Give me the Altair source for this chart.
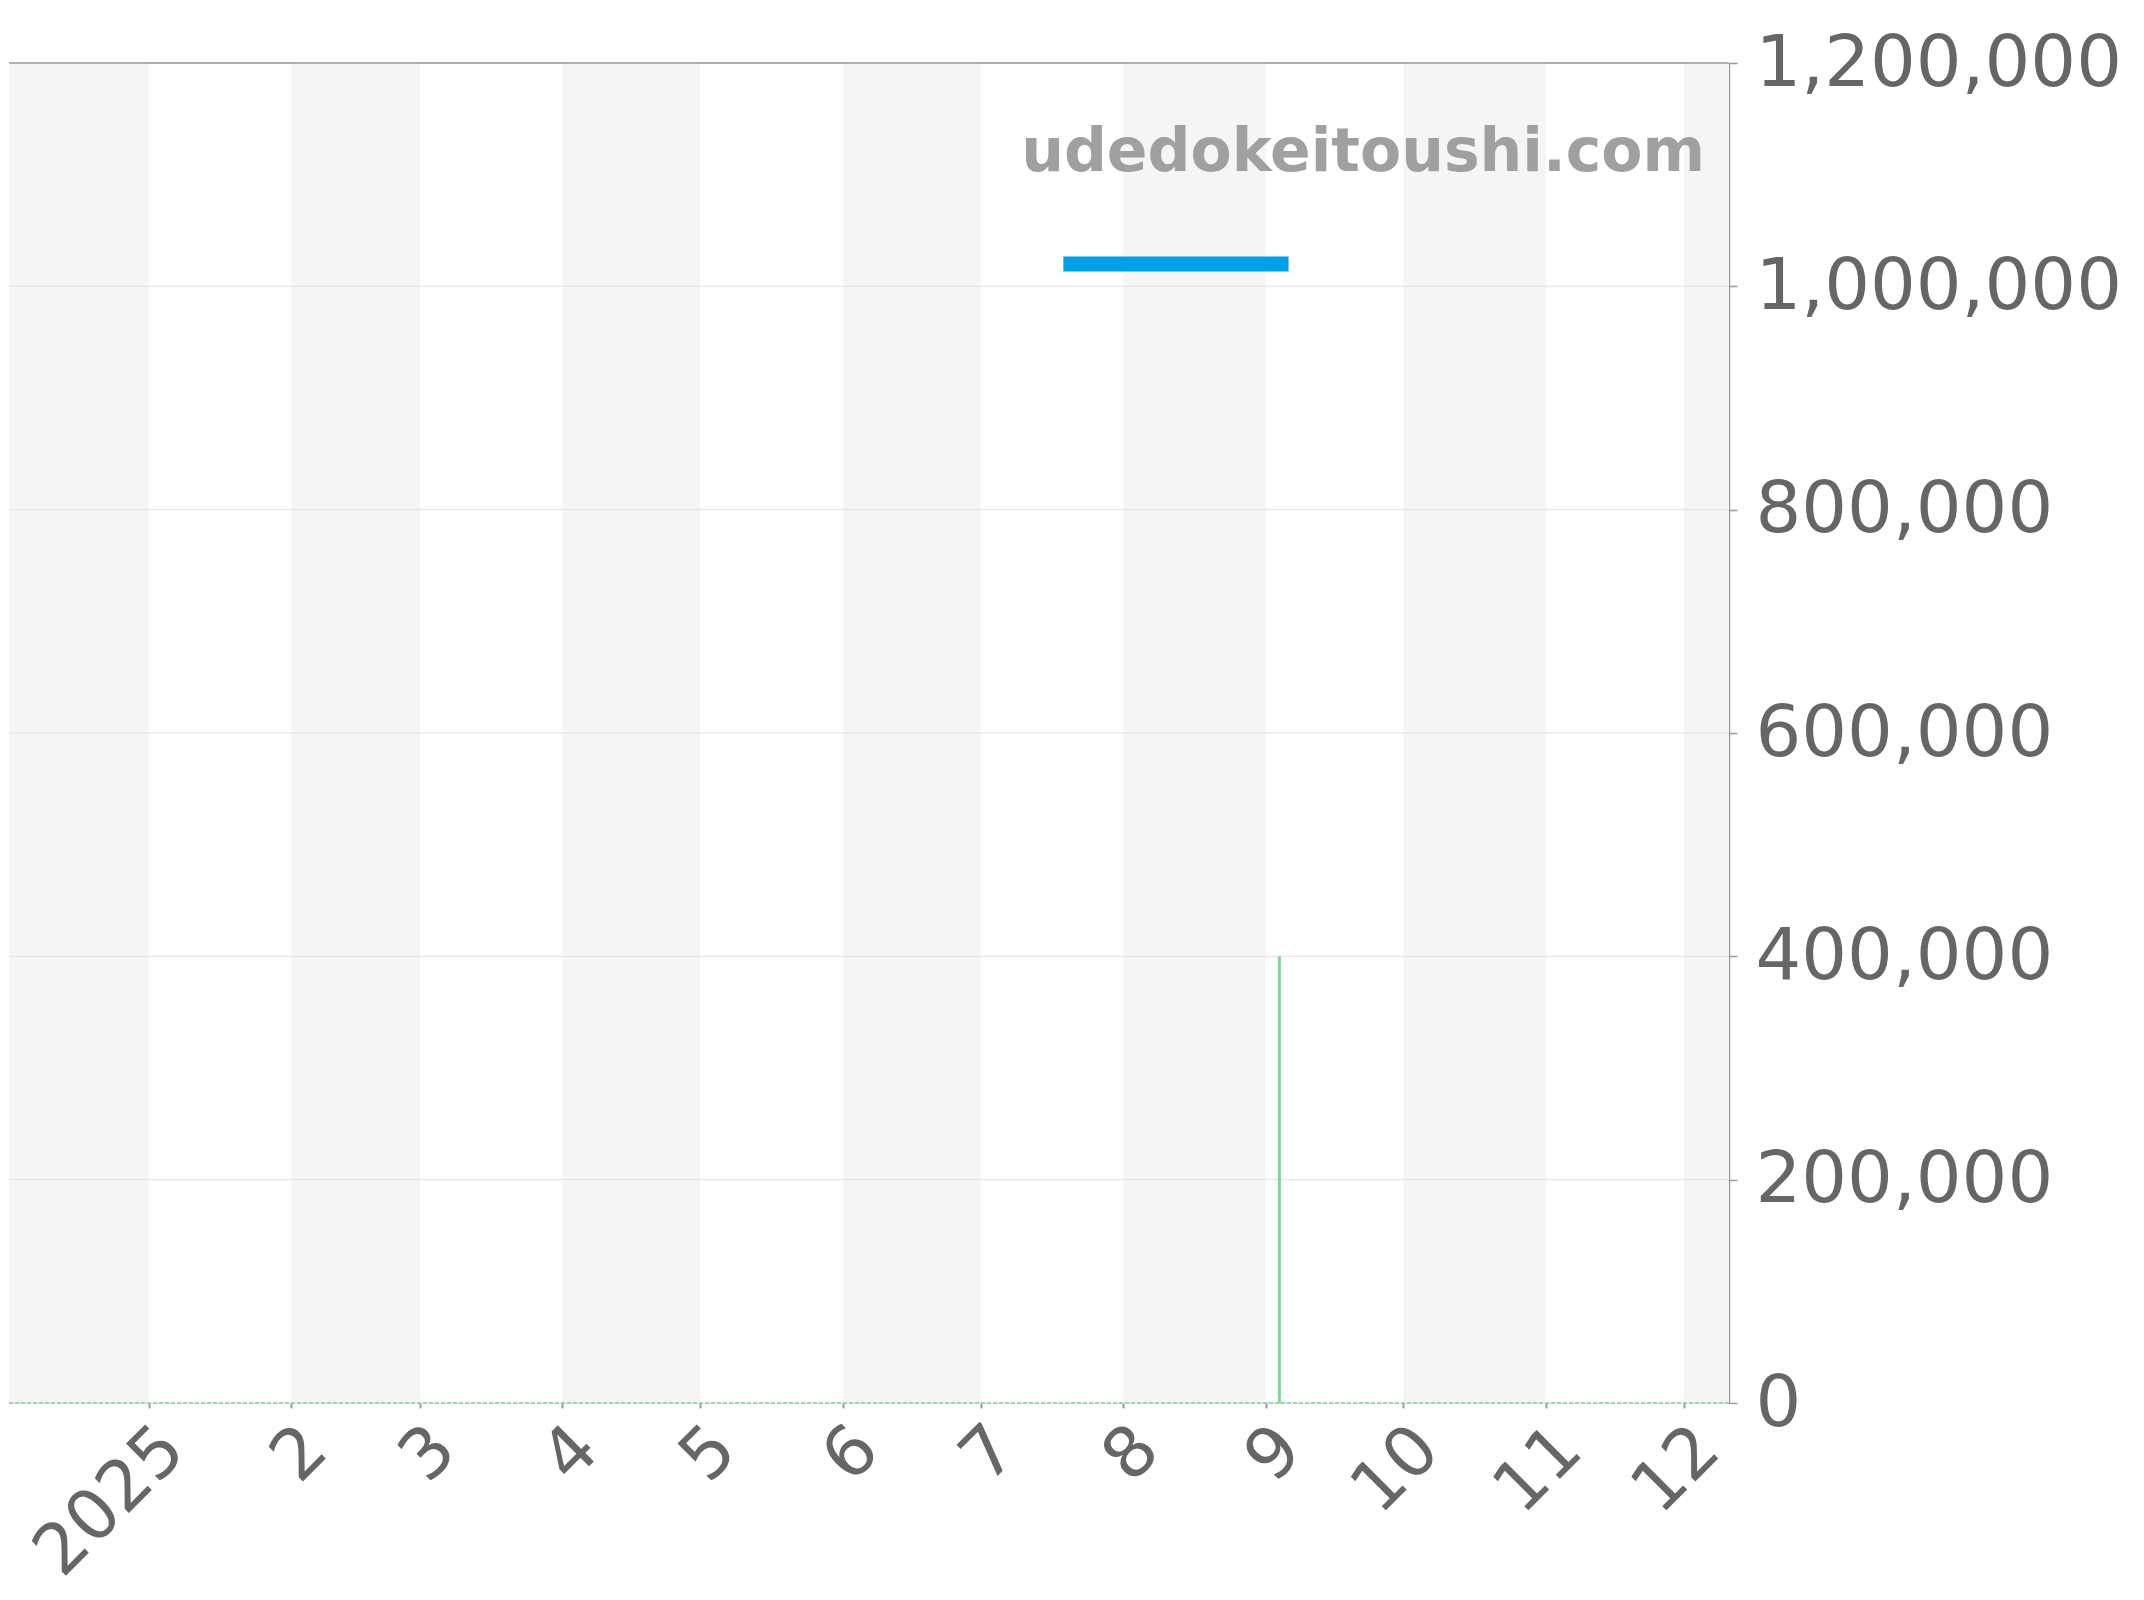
import altair as alt
import pandas as pd

# ---- data ----
domain_start = "2024-12-01T14:00:00"
domain_end = "2025-12-10T20:00:00"

month_ticks = ["2025-01-01", "2025-02-01", "2025-03-01", "2025-04-01", "2025-05-01",
               "2025-06-01", "2025-07-01", "2025-08-01", "2025-09-01", "2025-10-01",
               "2025-11-01", "2025-12-01"]

band_starts = ["2024-12-01", "2025-02-01", "2025-04-01", "2025-06-01", "2025-08-01",
               "2025-10-01", "2025-12-01"]
band_ends = ["2025-01-01", "2025-03-01", "2025-05-01", "2025-07-01", "2025-09-01",
             "2025-11-01", "2026-01-01"]

price_dates = ["2025-07-19", "2025-09-06"]
price_values = [1020000, 1020000]

volume_dates = ["2025-09-04"]
volume_values = [400000]

grid_values = [200000, 400000, 600000, 800000, 1000000]
y_max = 1200000
y_ticks = [0, 200000, 400000, 600000, 800000, 1000000, 1200000]

W, H = 1720, 1340


def ms(s):
    return int(pd.Timestamp(s, tz="UTC").value // 10**6)


bands = pd.DataFrame({"start": [ms(s) for s in band_starts], "end": [ms(e) for e in band_ends]})
price = pd.DataFrame({"date": [ms(d) for d in price_dates], "value": price_values})
volume = pd.DataFrame({"date": [ms(d) for d in volume_dates], "value": volume_values})
grid = pd.DataFrame({"v": grid_values})
base = pd.DataFrame({"v": [0]})
top = pd.DataFrame({"v": [y_max]})
wm = pd.DataFrame({"t": ["udedokeitoushi.com"]})

xscale = alt.Scale(type="utc", domain=[ms(domain_start), ms(domain_end)])
yscale = alt.Scale(domain=[0, y_max], nice=False, zero=True)

xaxis = alt.Axis(
    values=[ms(m) for m in month_ticks],
    labelExpr="utcmonth(datum.value)==0 ? utcFormat(datum.value,'%Y') : utcFormat(datum.value,'%-m')",
    labelAngle=315, labelFontSize=70, labelColor="#666666", labelFont="DejaVu Sans",
    domain=False, ticks=True, tickColor="#999999", tickSize=5, tickWidth=2,
    grid=False, title=None, labelPadding=6, labelOverlap=False, labelLimit=0,
)
yaxis = alt.Axis(
    orient="right", values=y_ticks, format=",d",
    labelFontSize=72, labelColor="#666666", labelFont="DejaVu Sans",
    domain=True, domainColor="#999999", domainWidth=1.5,
    tickColor="#999999", tickSize=8, tickWidth=1.5,
    grid=False, title=None, labelPadding=18, labelLimit=0, labelOverlap=False,
)

band_layer = alt.Chart(bands).mark_rect(color="#f5f5f5", clip=True).encode(
    x=alt.X("start:T", scale=xscale, axis=xaxis),
    x2="end:T",
)

grid_layer = alt.Chart(grid).mark_rule(color="#e2e2e2", strokeWidth=1).encode(
    y=alt.Y("v:Q", scale=yscale, axis=yaxis)
)

top_layer = alt.Chart(top).mark_rule(color="#999999", strokeWidth=1.5).encode(
    y=alt.Y("v:Q", scale=yscale)
)

base_layer = alt.Chart(base).mark_rule(color="#9bd8a6", strokeWidth=2, strokeDash=[4, 2]).encode(
    y=alt.Y("v:Q", scale=yscale)
)

vol_layer = alt.Chart(volume).mark_rule(color="#88d498", strokeWidth=3).encode(
    x=alt.X("date:T", scale=xscale),
    y=alt.Y("value:Q", scale=yscale),
    y2=alt.Y2(datum=0),
)

price_layer = alt.Chart(price).mark_line(color="#00a0e6", strokeWidth=15, strokeCap="butt").encode(
    x=alt.X("date:T", scale=xscale),
    y=alt.Y("value:Q", scale=yscale),
)

wm_layer = alt.Chart(wm).mark_text(
    align="right", baseline="alphabetic", fontSize=60, fontWeight="bold",
    font="DejaVu Sans", color="#a0a0a0"
).encode(
    text="t:N", x=alt.value(1696), y=alt.value(108)
)

chart = alt.layer(
    band_layer, grid_layer, top_layer, base_layer, vol_layer, price_layer, wm_layer
).properties(
    width=W, height=H,
    padding={"left": 0, "top": 19, "right": 5, "bottom": 5},
).configure_view(stroke=None).configure(background="white")

chart.save("out.html", embed_options={"renderer": "svg", "actions": False})
